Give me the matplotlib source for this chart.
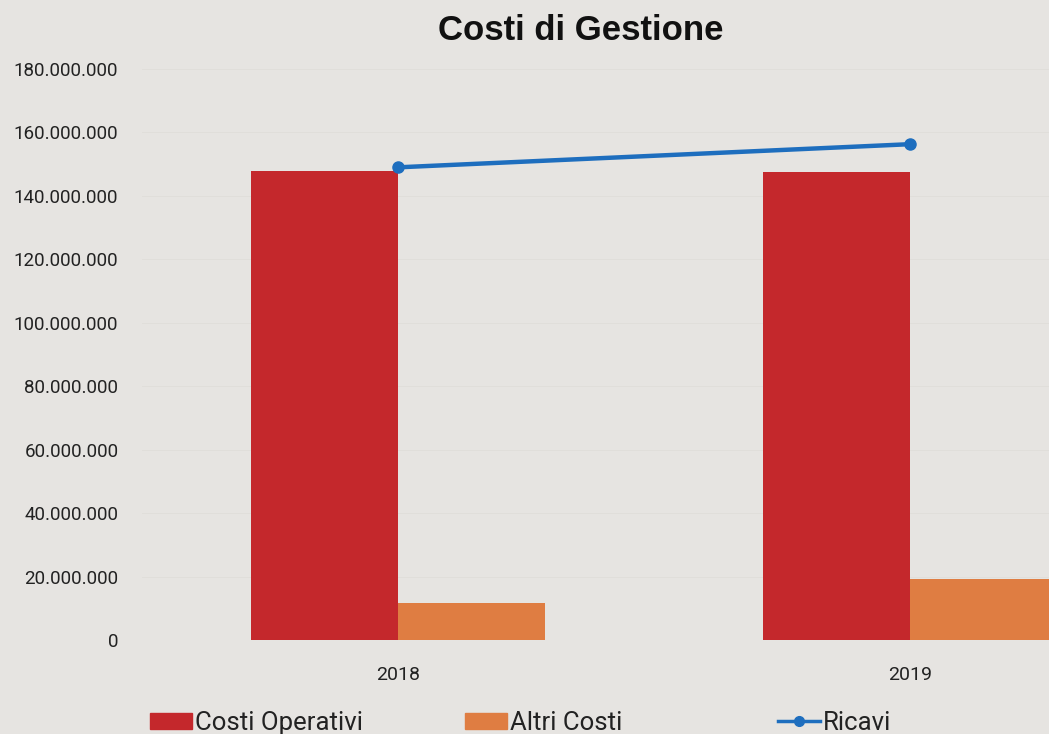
import numpy as np
import matplotlib.pyplot as plt
from matplotlib.patches import Patch
from matplotlib.lines import Line2D
from matplotlib.ticker import FuncFormatter

anni = ["2018", "2019"]
costi_operativi = [148.0e6, 147.5e6]
altri_costi = [11.7e6, 19.3e6]
ricavi = [149.0e6, 156.3e6]

ROSSO = "#c4282c"
ARANCIO = "#df7d42"
BLU = "#1e6ebe"
SFONDO = "#e6e4e1"

fig = plt.figure(figsize=(10.49, 7.34), dpi=100, facecolor=SFONDO)
# the plot area runs past the right edge on purpose
ax = fig.add_axes([142 / 1049, 94 / 734, 1024 / 1049, 571 / 734])
ax.set_facecolor(SFONDO)

x = np.arange(len(anni))
w = 0.287
ax.bar(x - w / 2, costi_operativi, w, color=ROSSO, zorder=2)
ax.bar(x + w / 2, altri_costi, w, color=ARANCIO, zorder=2)
ax.plot(x, ricavi, color=BLU, lw=3.2, marker="o", ms=8, zorder=3)

ax.set_xlim(-0.5, 1.5)
ax.set_ylim(0, 180e6)
ax.set_yticks(np.arange(0, 180e6 + 1, 20e6))
ax.yaxis.set_major_formatter(FuncFormatter(lambda v, p: f"{v:,.0f}".replace(",", ".")))
ax.set_xticks(x)
ax.set_xticklabels(anni)
ax.tick_params(axis="y", length=0, pad=17, labelsize=13.5, labelcolor="#222222")
ax.tick_params(axis="x", length=0, pad=19, labelsize=14, labelcolor="#222222")
for lab in ax.get_xticklabels() + ax.get_yticklabels():
    lab.set_fontfamily("Roboto")
ax.grid(axis="y", color="#e0deda", lw=0.7, zorder=0)
for s in ax.spines.values():
    s.set_visible(False)

fig.text(581 / 1049, 1 - 30 / 734, "Costi di Gestione", ha="center", va="center",
         fontsize=25, fontweight="bold", family="Liberation Sans", color="#111111")

voci = [
    (Patch(color=ROSSO), "Costi Operativi", 150),
    (Patch(color=ARANCIO), "Altri Costi", 465),
    (Line2D([], [], color=BLU, lw=2.5, marker="o", ms=7), "Ricavi", 778),
]
for h, t, px in voci:
    leg = fig.legend([h], [t], loc="center left", bbox_to_anchor=(px / 1049, 1 - 723 / 734),
                     frameon=False, handlelength=1.65, handleheight=0.6, handletextpad=0.1,
                     borderpad=0, borderaxespad=0,
                     prop={"family": "Roboto", "size": 18.5})
    for txt in leg.get_texts():
        txt.set_color("#222222")

fig.savefig("out.png", dpi=100, facecolor=SFONDO)
